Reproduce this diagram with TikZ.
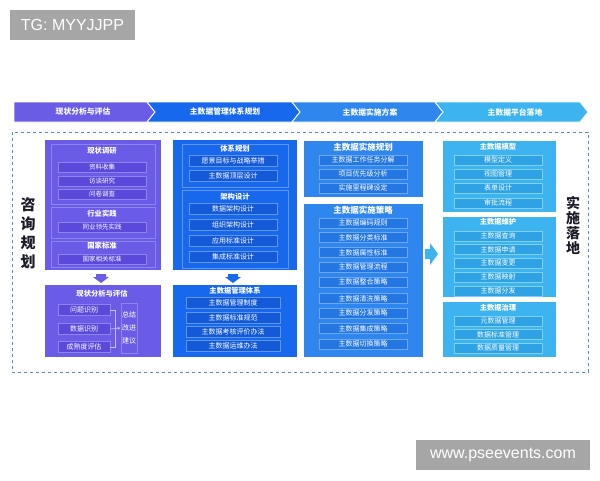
\documentclass[tikz,border=0pt]{standalone}
\usepackage{fontspec}
\setmainfont{Liberation Sans}
\newfontfamily\cjk{Noto Sans CJK SC}
\usetikzlibrary{arrows.meta}

\definecolor{cpurple}{HTML}{6B5CE7}
\definecolor{ipurple}{HTML}{5A49DA}
\definecolor{bpurple}{HTML}{8E84F0}
\definecolor{cblue}{HTML}{1868EE}
\definecolor{iblue}{HTML}{1459D8}
\definecolor{bblue}{HTML}{5E95F3}
\definecolor{cmid}{HTML}{2E86EE}
\definecolor{imid}{HTML}{2476E2}
\definecolor{bmid}{HTML}{6AA8F3}
\definecolor{ccyan}{HTML}{3DB3EF}
\definecolor{icyan}{HTML}{2EA2E4}
\definecolor{bcyan}{HTML}{80CFF5}
\definecolor{frame}{HTML}{5A8AC6}
\definecolor{wmgray}{HTML}{A6A6A6}
\definecolor{txtdark}{HTML}{1C1C28}
\definecolor{linkc}{HTML}{C9C2FA}

\begin{document}
\begin{tikzpicture}[x=1pt,y=-1pt,
    cn/.style={font=\cjk\fontsize{7}{8}\selectfont, text=white, inner sep=0pt},
    small/.style={font=\cjk\fontsize{6.5}{7}\selectfont},
    hd/.style={font=\cjk\bfseries\fontsize{7.3}{8}\selectfont, text=white, inner sep=0pt},
    bighd/.style={hd, font=\cjk\bfseries\fontsize{8.5}{9}\selectfont},
    item/.style={cn, draw=b#1, fill=i#1, line width=0.5pt, minimum width=88pt, minimum height=10pt},
    box/.style={fill=c#1},
    panel/.style={draw=b#1, line width=0.5pt},
    seg/.style={fill=#1, draw=white, line width=0.8pt},
    link/.style={draw=linkc, line width=0.6pt},
    wm/.style={fill=wmgray, text=white, font=\fontsize{16}{18}\selectfont, inner sep=0pt}]
  \useasboundingbox (0,0) rectangle (600,480);

  % watermarks
  \node[wm, minimum width=125pt, minimum height=30pt] (tg) at (72.5,25) {TG: MYYJJPP};
  \node[wm, minimum width=174pt, minimum height=30pt] (www) at (503,455) {www.pseevents.com};

  % top banner
  \draw[seg=cpurple] (14,102) -- (147,102) -- (155,112) -- (147,122) -- (14,122) -- cycle;
  \draw[seg=cblue] (147,102) -- (292,102) -- (300,112) -- (292,122) -- (147,122) -- (155,112) -- cycle;
  \draw[seg=cmid] (292,102) -- (435,102) -- (443,112) -- (435,122) -- (292,122) -- (300,112) -- cycle;
  \draw[seg=ccyan] (435,102) -- (580,102) -- (588,112) -- (580,122) -- (435,122) -- (443,112) -- cycle;
  \node[hd, font=\cjk\bfseries\fontsize{7.8}{8}\selectfont] (b1) at (83,112) {现状分析与评估};
  \node[hd, font=\cjk\bfseries\fontsize{7.8}{8}\selectfont] (b2) at (225,112) {主数据管理体系规划};
  \node[hd, font=\cjk\bfseries\fontsize{7.8}{8}\selectfont] (b3) at (370,112) {主数据实施方案};
  \node[hd, font=\cjk\bfseries\fontsize{7.8}{8}\selectfont] (b4) at (515,112) {主数据平台落地};

  % dashed frame
  \draw[frame, dashed, line width=0.8pt] (12,132) rectangle (588,372);
  \node[font=\cjk\bfseries\fontsize{15}{19}\selectfont, text=txtdark, align=center, inner sep=0pt] (zxgh) at (28,233) {咨\\询\\规\\划};
  \node[font=\cjk\bfseries\fontsize{14}{15}\selectfont, text=txtdark, align=center, inner sep=0pt] (ssld) at (573,225.5) {实\\施\\落\\地};

  % column 1
  \fill[box=purple] (45,140) rectangle (161,270);
  \draw[panel=purple] (51,144) rectangle (155,204);
  \draw[panel=purple] (51,207) rectangle (155,238);
  \draw[panel=purple] (51,241) rectangle (155,267);
  \node[hd] (dy) at (102,151) {现状调研};
  \node[item=purple, small] (dy1) at (102,167) {资料收集};
  \node[item=purple, small] (dy2) at (102,181) {访谈研究};
  \node[item=purple, small] (dy3) at (102,194.5) {问卷调查};
  \node[hd] (hy) at (102,214) {行业实践};
  \node[item=purple, small] (hy1) at (102,227) {同业领先实践};
  \node[hd] (gj) at (102,246) {国家标准};
  \node[item=purple, small] (gj1) at (102,259.5) {国家相关标准};
  \fill[cpurple] (96,274) -- (106,274) -- (106,277) -- (109,277) -- (101,283) -- (93,277) -- (96,277) -- cycle;

  \fill[box=purple] (45,285) rectangle (161,357);
  \node[hd] (pg) at (102,294) {现状分析与评估};
  \node[item=purple, minimum width=52pt, minimum height=11pt] (pg1) at (84,310) {问题识别};
  \node[item=purple, minimum width=52pt, minimum height=11pt] (pg2) at (84,329) {数据识别};
  \node[item=purple, minimum width=52pt, minimum height=11pt] (pg3) at (84,347) {成熟度评估};
  \node[cn, draw=bpurple, line width=0.5pt, minimum width=16pt, minimum height=50pt, align=center, font=\cjk\fontsize{7}{13}\selectfont] (zj) at (129,328) {总结\\改进\\建议};
  \coordinate (jn) at (115,329);
  \begin{scope}[link]
    \draw (pg1.east) -| (jn);
    \draw (pg3.east) -| (jn);
    \draw[-{Latex[length=3pt,width=3pt]}] (pg2.east) -- (zj.west);
  \end{scope}

  % column 2
  \fill[box=blue] (173,140) rectangle (297,270);
  \draw[panel=blue] (182,144) rectangle (288,187);
  \draw[panel=blue] (182,190) rectangle (288,268);
  \node[hd] (tx) at (235,149) {体系规划};
  \node[item=blue, minimum height=11pt] (tx1) at (233,161) {愿景目标与战略举措};
  \node[item=blue, minimum height=11pt] (tx2) at (233,176) {主数据顶层设计};
  \node[hd] (jg) at (235,197) {架构设计};
  \node[item=blue, minimum height=11pt] (jg1) at (233,208.5) {数据架构设计};
  \node[item=blue, minimum height=11pt] (jg2) at (233,225) {组织架构设计};
  \node[item=blue, minimum height=11pt] (jg3) at (233,240.5) {应用标准设计};
  \node[item=blue, minimum height=11pt] (jg4) at (233,257) {集成标准设计};
  \fill[cblue] (228,274) -- (238,274) -- (238,277) -- (241,277) -- (233,283) -- (225,277) -- (228,277) -- cycle;

  \fill[box=blue] (173,285) rectangle (297,357);
  \node[hd] (gl) at (235,291) {主数据管理体系};
  \node[item=blue, minimum width=94pt, minimum height=11pt] (gl1) at (233,303) {主数据管理制度};
  \node[item=blue, minimum width=94pt, minimum height=11pt] (gl2) at (233,317.5) {主数据标准规范};
  \node[item=blue, minimum width=94pt, minimum height=11pt] (gl3) at (233,332) {主数据考核评价办法};
  \node[item=blue, minimum width=94pt, minimum height=11pt] (gl4) at (233,346) {主数据运维办法};

  % column 3
  \fill[box=mid] (304,141) rectangle (423,197);
  \node[bighd] (gh) at (363,147) {主数据实施规划};
  \node[item=mid] (gh1) at (363,160) {主数据工作任务分解};
  \node[item=mid] (gh2) at (363,174) {项目优先级分析};
  \node[item=mid] (gh3) at (363,188) {实施里程碑设定};

  \fill[box=mid] (304,204) rectangle (423,357);
  \node[bighd] (cl) at (363,210) {主数据实施策略};
  \node[item=mid] (cl1) at (363,223) {主数据编码规则};
  \node[item=mid] (cl2) at (363,237.5) {主数据分类标准};
  \node[item=mid] (cl3) at (363,252.5) {主数据属性标准};
  \node[item=mid] (cl4) at (363,267) {主数据管理流程};
  \node[item=mid] (cl5) at (363,282) {主数据整合策略};
  \node[item=mid] (cl6) at (363,298.5) {主数据清洗策略};
  \node[item=mid] (cl7) at (363,313) {主数据分发策略};
  \node[item=mid] (cl8) at (363,328.5) {主数据集成策略};
  \node[item=mid] (cl9) at (363,344) {主数据切换策略};
  \fill[ccyan] (425,249) -- (430,249) -- (430,243) -- (438,254) -- (430,265) -- (430,259) -- (425,259) -- cycle;

  % column 4
  \fill[box=cyan] (443,141) rectangle (556,212);
  \node[hd] (mx) at (498,147) {主数据模型};
  \node[item=cyan] (mx1) at (498,160) {模型定义};
  \node[item=cyan] (mx2) at (498,174) {视图管理};
  \node[item=cyan] (mx3) at (498,188) {表单设计};
  \node[item=cyan] (mx4) at (498,203) {审批流程};

  \fill[box=cyan] (443,217) rectangle (556,297);
  \node[hd] (wh) at (498,222) {主数据维护};
  \node[item=cyan] (wh1) at (498,236) {主数据查询};
  \node[item=cyan] (wh2) at (498,249.5) {主数据申请};
  \node[item=cyan] (wh3) at (498,263) {主数据变更};
  \node[item=cyan] (wh4) at (498,277) {主数据映射};
  \node[item=cyan] (wh5) at (498,291) {主数据分发};

  \fill[box=cyan] (443,302) rectangle (556,357);
  \node[hd] (zl) at (498,308) {主数据治理};
  \node[item=cyan] (zl1) at (498,321) {元数据管理};
  \node[item=cyan] (zl2) at (498,334.5) {数据标准管理};
  \node[item=cyan] (zl3) at (498,348) {数据质量管理};
\end{tikzpicture}
\end{document}
